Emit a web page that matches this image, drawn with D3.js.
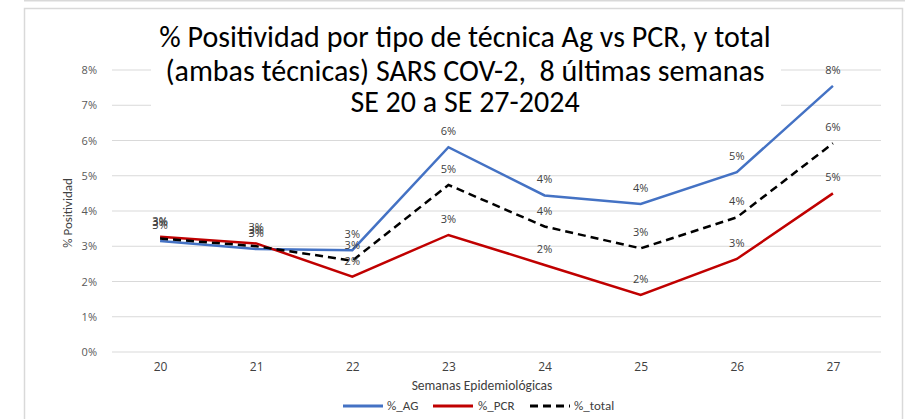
<!DOCTYPE html>
<html><head><meta charset="utf-8">
<script src="https://cdn.jsdelivr.net/npm/d3@7"></script>
<style>
body{margin:0;background:#fff;}
svg{display:block;font-family:"Liberation Sans Narrow","Carlito","Liberation Sans",Arial,sans-serif;}
</style></head>
<body>
<svg id="c" width="905" height="419"></svg>
<script>
const weeks = ["20","21","22","23","24","25","26","27"];
const ag    = [3.15, 2.92, 2.89, 5.81, 4.44, 4.20, 5.10, 7.55];
const pcr   = [3.27, 3.08, 2.14, 3.32, 2.47, 1.62, 2.64, 4.50];
const total = [3.22, 3.00, 2.59, 4.74, 3.56, 2.94, 3.82, 5.92];
const yTicks = [0,1,2,3,4,5,6,7,8];
const titleLines = ["% Positividad por tipo de técnica Ag vs PCR, y total",
                    "(ambas técnicas) SARS COV-2,  8 últimas semanas",
                    "SE 20 a SE 27-2024"];
const seriesNames = ["%_AG","%_PCR","%_total"];

const svg = d3.select("#c");
// frame
svg.append("rect").attr("x",24).attr("y",0).attr("width",881).attr("height",1.5).attr("fill","#d9d9d9");
svg.append("rect").attr("x",24.5).attr("y",8.5).attr("width",878).attr("height",420).attr("fill","#fff").attr("stroke","#d9d9d9").attr("stroke-width",1.5);

const x = d3.scalePoint().domain(weeks).range([112,881]).padding(0.5);
const y = d3.scaleLinear().domain([0,8]).range([352,70]);

// gridlines
svg.append("g").selectAll("line").data(yTicks).join("line")
  .attr("x1",112).attr("x2",881).attr("y1",d=>y(d)).attr("y2",d=>y(d))
  .attr("stroke","#d9d9d9").attr("stroke-width",1);

// y axis
const ya = svg.append("g").attr("transform","translate(112,0)")
  .call(d3.axisLeft(y).tickValues(yTicks).tickFormat(d=>d+"%").tickSize(0).tickPadding(15));
ya.select(".domain").remove();
ya.selectAll("text").attr("font-size",11).attr("fill","#595959").attr("font-family","'Open Sans',sans-serif");

// x axis
const xa = svg.append("g").attr("transform","translate(0,352)")
  .call(d3.axisBottom(x).tickSize(0).tickPadding(10));
xa.select(".domain").remove();
xa.selectAll("text").attr("font-size",12).attr("fill","#404040").attr("font-family","'Open Sans',sans-serif");

// axis titles
svg.append("text").attr("x",482).attr("y",390).attr("text-anchor","middle")
  .attr("font-size",13.5).attr("fill","#404040").text("Semanas Epidemiológicas");
svg.append("text").attr("transform","translate(72,213) rotate(-90)").attr("text-anchor","middle")
  .attr("font-size",13).attr("fill","#404040").text("% Positividad");

// series
const series = [
  {name:seriesNames[0], vals:ag, color:"#4472C4", dash:null},
  {name:seriesNames[1], vals:pcr, color:"#C00000", dash:null},
  {name:seriesNames[2], vals:total, color:"#000000", dash:"8,5"}
];
const line = d3.line().x((d,i)=>x(weeks[i])).y(d=>y(d));
series.forEach(s=>{
  svg.append("path").datum(s.vals).attr("d",line).attr("fill","none")
    .attr("stroke",s.color).attr("stroke-width",2.5)
    .attr("stroke-dasharray",s.dash);
});
series.forEach(s=>{
  svg.append("g").selectAll("text").data(s.vals).join("text")
    .attr("x",(d,i)=>x(weeks[i])).attr("y",d=>y(d)-12)
    .attr("text-anchor","middle").attr("font-size",11).attr("fill","#404040")
    .attr("font-family","'Open Sans',sans-serif")
    .text(d=>Math.round(d)+"%");
});

// title (with white background box covering gridlines)
svg.append("rect").attr("x",151).attr("y",14).attr("width",630).attr("height",105).attr("fill","#fff");
const tl = [47,81,112];
svg.append("g").selectAll("text").data(titleLines).join("text")
  .attr("x",465).attr("y",(d,i)=>tl[i]).attr("text-anchor","middle")
  .attr("font-size",30).attr("fill","#000").attr("xml:space","preserve").style("white-space","pre").text(d=>d);

// legend
const lg = [{x:343,tx:387},{x:433,tx:478},{x:530,tx:574}];
series.forEach((s,i)=>{
  svg.append("line").attr("x1",lg[i].x).attr("x2",lg[i].x+40).attr("y1",406).attr("y2",406)
    .attr("stroke",s.color).attr("stroke-width",3).attr("stroke-dasharray",s.dash);
  svg.append("text").attr("x",lg[i].tx).attr("y",410).attr("font-size",13).attr("fill","#404040").text(s.name);
});
</script>
</body></html>
